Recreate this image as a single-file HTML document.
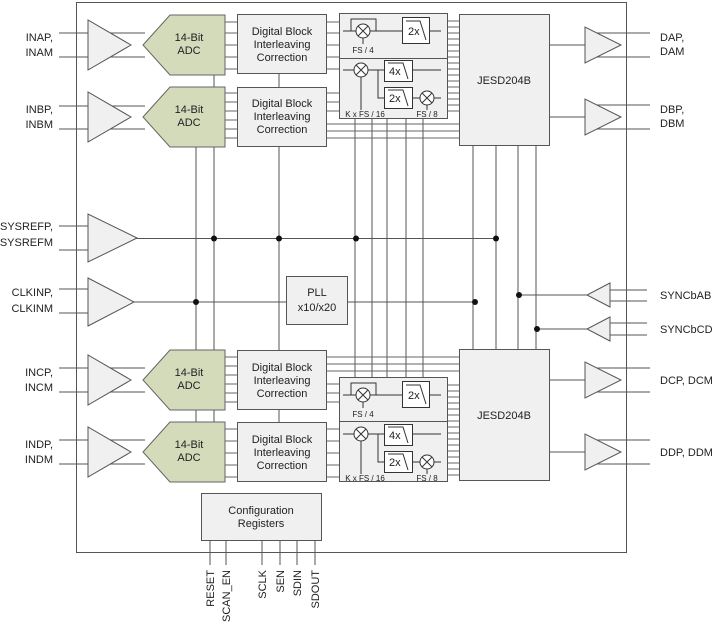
<!DOCTYPE html>
<html><head><meta charset="utf-8"><style>
html,body{margin:0;padding:0;background:#fff}
svg{display:block}
text{font-family:"Liberation Sans",sans-serif;fill:#222}
</style></head><body>
<svg width="712" height="624" viewBox="0 0 712 624" xmlns="http://www.w3.org/2000/svg">
<g stroke="#555" stroke-width="1" fill="none">
<rect x="76.5" y="2.5" width="550" height="550"/>
<path d="M59 33H145M59 57H145M59 106H145M59 129H145M59 226H100M59 250H100M59 289H100M59 313H100M59 368H145M59 392H145M59 440H145M59 464H145"/>
<path d="M214 75V422M196 147V482M279 74V422"/>
<path d="M355 118V377M372 118V377M387 118V377M406 118V377M423 118V377"/>
<path d="M473 145V349M496 145V349M518 145V349M536 145V349"/>
<path d="M136 238.5H496M134 302H286M347 302H475"/>
<path d="M587 295H519M587 329H537"/>
<path d="M610 290H647M610 301H647M610 323H647M610 335H647"/>
</g>
<g stroke="#666" stroke-width="1" fill="none">
<path d="M225 22H237M225 33H237M225 45H237M225 57H237M225 69H237"/>
<path d="M225 93H237M225 102H237M225 111H237M225 120H237M225 129H237M225 138H237"/>
<path d="M225 357H237M225 366H237M225 375H237M225 384H237M225 393H237M225 402H237"/>
<path d="M225 429H237M225 441H237M225 453H237M225 465H237M225 477H237"/>
<path d="M327 22H339M327 33H339M327 45H339M327 57H339M327 69H339"/>
<path d="M327 93H339M327 102H339M327 111H339M327 124H459M327 131H459M327 138H459"/>
<path d="M327 357H459M327 364H459M327 371H459M327 384H339M327 393H339M327 402H339"/>
<path d="M327 429H339M327 441H339M327 453H339M327 465H339M327 477H339"/>
<path d="M447 21H459M447 27H459M447 33H459M447 39H459M447 45H459M447 51H459M447 57H459M447 63H459M447 69H459M447 75H459M447 81H459M447 87H459M447 93H459M447 99H459M447 105H459M447 111H459"/>
<path d="M447 385H459M447 391H459M447 397H459M447 403H459M447 409H459M447 415H459M447 421H459M447 427H459M447 433H459M447 439H459M447 445H459M447 451H459M447 457H459M447 463H459M447 469H459M447 475H459"/>
</g>
<g stroke="#555" stroke-width="1" fill="none">
<path d="M549 45H585M549 117H585M549 380H585M549 452H585"/>
<path d="M595 33H650M595 57H650M595 105H650M595 129H650M595 368H650M595 392H650M595 440H650M595 464H650"/>
<path d="M210 540V565M226 540V565M262 540V565M280 540V565M297 540V565M315 540V565"/>
</g>
<g fill="#f0f0f0" stroke="#555">
<polygon points="88,20 88,70 131,45"/>
<polygon points="88,92 88,142 131,117"/>
<polygon points="88,214 88,262 137,238"/>
<polygon points="88,278 88,326 134,302"/>
<polygon points="88,355 88,405 131,380"/>
<polygon points="88,427 88,477 131,452"/>
<polygon points="585,27 585,63 621,45"/>
<polygon points="585,99 585,135 621,117"/>
<polygon points="585,362 585,398 621,380"/>
<polygon points="585,434 585,470 621,452"/>
<polygon points="610,283 610,307 587,295"/>
<polygon points="610,317 610,341 587,329"/>
</g>
<g fill="#d3dbbb" stroke="#666">
<polygon points="143,45 170,15 225,15 225,75 170,75"/>
<polygon points="143,117 170,87 225,87 225,147 170,147"/>
<polygon points="143,380 170,350 225,350 225,410 170,410"/>
<polygon points="143,452 170,422 225,422 225,482 170,482"/>
</g>
<g fill="#f0f0f0" stroke="#555">
<rect x="237.5" y="14.5" width="89" height="59"/>
<rect x="237.5" y="87.5" width="89" height="59"/>
<rect x="237.5" y="350.5" width="89" height="59"/>
<rect x="237.5" y="422.5" width="89" height="59"/>
<rect x="339.5" y="13.5" width="108" height="105"/>
<rect x="339.5" y="377.5" width="108" height="104"/>
<rect x="459.5" y="14.5" width="90" height="131"/>
<rect x="459.5" y="349.5" width="90" height="131"/>
<rect x="286.5" y="276.5" width="61" height="48"/>
<rect x="201.5" y="493.5" width="120" height="47"/>
</g>
<g stroke="#555" fill="none"><path d="M339 58.5H447M339 421.5H447"/></g>
<g stroke="#333" fill="none">
<path d="M343 31H356M370 31H402M429 31H441M351 31V19H376V31M363 38V44"/>
<circle cx="363" cy="31" r="7" fill="#fff"/>
<path d="M358 26L368 36M368 26L358 36"/>
<rect x="402.5" y="17.5" width="27" height="26" fill="#fff"/>
<path d="M406 21H420L426 40"/>
<path d="M343 70H354M368 70H384M378 70V98H384M412 70H441M412 98H420M434 98H441M361 77V110M427 105V110"/>
<circle cx="361" cy="70" r="7" fill="#fff"/>
<path d="M356 65L366 75M366 65L356 75"/>
<circle cx="427" cy="98" r="7" fill="#fff"/>
<path d="M422 93L432 103M432 93L422 103"/>
<rect x="384.5" y="60.5" width="28" height="21" fill="#fff"/>
<path d="M388 63H403L408 79"/>
<rect x="384.5" y="87.5" width="28" height="21" fill="#fff"/>
<path d="M388 90H403L408 106"/>
</g>
<g stroke="#333" fill="none" transform="translate(0,364)">
<path d="M343 31H356M370 31H402M429 31H441M351 31V19H376V31M363 38V44"/>
<circle cx="363" cy="31" r="7" fill="#fff"/>
<path d="M358 26L368 36M368 26L358 36"/>
<rect x="402.5" y="17.5" width="27" height="26" fill="#fff"/>
<path d="M406 21H420L426 40"/>
<path d="M343 70H354M368 70H384M378 70V98H384M412 70H441M412 98H420M434 98H441M361 77V110M427 105V110"/>
<circle cx="361" cy="70" r="7" fill="#fff"/>
<path d="M356 65L366 75M366 65L356 75"/>
<circle cx="427" cy="98" r="7" fill="#fff"/>
<path d="M422 93L432 103M432 93L422 103"/>
<rect x="384.5" y="60.5" width="28" height="21" fill="#fff"/>
<path d="M388 63H403L408 79"/>
<rect x="384.5" y="87.5" width="28" height="21" fill="#fff"/>
<path d="M388 90H403L408 106"/>
</g>
<g font-size="11">
<text x="408" y="35">2x</text><text x="389" y="75">4x</text><text x="389" y="102">2x</text>
<text x="408" y="399">2x</text><text x="389" y="439">4x</text><text x="389" y="466">2x</text>
</g>
<g font-size="8">
<text x="363" y="53" text-anchor="middle">FS / 4</text>
<text x="365" y="117" text-anchor="middle">K x FS / 16</text>
<text x="427" y="117" text-anchor="middle">FS / 8</text>
<text x="363" y="417" text-anchor="middle">FS / 4</text>
<text x="365" y="481" text-anchor="middle">K x FS / 16</text>
<text x="427" y="481" text-anchor="middle">FS / 8</text>
</g>
<g fill="#111">
<circle cx="214" cy="238.5" r="3"/><circle cx="279" cy="238.5" r="3"/><circle cx="356" cy="238.5" r="3"/><circle cx="496" cy="238.5" r="3"/>
<circle cx="196" cy="302" r="3"/><circle cx="475" cy="302" r="3"/>
<circle cx="519" cy="295" r="3"/><circle cx="537" cy="329" r="3"/>
</g>
<g font-size="11" text-anchor="middle">
<text x="189" y="41">14-Bit</text><text x="189" y="54">ADC</text>
<text x="189" y="113">14-Bit</text><text x="189" y="126">ADC</text>
<text x="189" y="376">14-Bit</text><text x="189" y="389">ADC</text>
<text x="189" y="448">14-Bit</text><text x="189" y="461">ADC</text>
<text x="282" y="35">Digital Block</text><text x="282" y="48">Interleaving</text><text x="282" y="61">Correction</text>
<text x="282" y="107">Digital Block</text><text x="282" y="120">Interleaving</text><text x="282" y="133">Correction</text>
<text x="282" y="371">Digital Block</text><text x="282" y="384">Interleaving</text><text x="282" y="397">Correction</text>
<text x="282" y="443">Digital Block</text><text x="282" y="456">Interleaving</text><text x="282" y="469">Correction</text>
<text x="504" y="84">JESD204B</text><text x="504" y="419">JESD204B</text>
<text x="317" y="296">PLL</text><text x="317" y="311">x10/x20</text>
<text x="261" y="514">Configuration</text><text x="261" y="527">Registers</text>
</g>
<g font-size="11" text-anchor="end">
<text x="53" y="41">INAP,</text><text x="53" y="56">INAM</text>
<text x="53" y="113">INBP,</text><text x="53" y="128">INBM</text>
<text x="53" y="230">SYSREFP,</text><text x="53" y="246">SYSREFM</text>
<text x="53" y="296">CLKINP,</text><text x="53" y="312">CLKINM</text>
<text x="53" y="376">INCP,</text><text x="53" y="391">INCM</text>
<text x="53" y="448">INDP,</text><text x="53" y="463">INDM</text>
</g>
<g font-size="11">
<text x="660" y="41">DAP,</text><text x="660" y="55">DAM</text>
<text x="660" y="113">DBP,</text><text x="660" y="127">DBM</text>
<text x="660" y="299">SYNCbAB</text><text x="660" y="333">SYNCbCD</text>
<text x="660" y="384">DCP, DCM</text><text x="660" y="456">DDP, DDM</text>
</g>
<g font-size="11" text-anchor="end">
<text transform="translate(214,570) rotate(-90)">RESET</text>
<text transform="translate(230,570) rotate(-90)">SCAN_EN</text>
<text transform="translate(266,570) rotate(-90)">SCLK</text>
<text transform="translate(284,570) rotate(-90)">SEN</text>
<text transform="translate(301,570) rotate(-90)">SDIN</text>
<text transform="translate(319,570) rotate(-90)">SDOUT</text>
</g>
</svg>
</body></html>
